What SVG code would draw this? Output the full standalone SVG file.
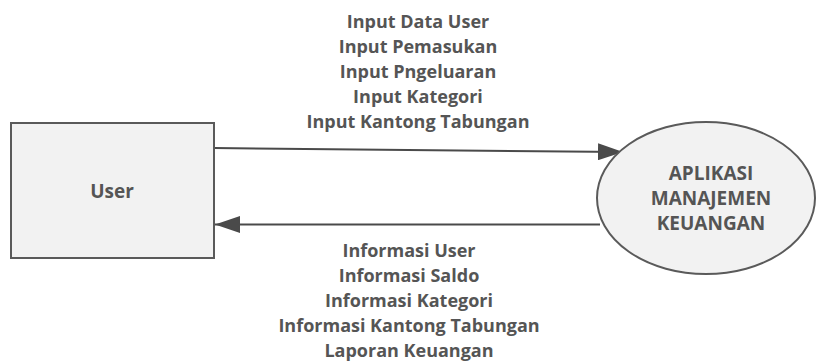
<svg xmlns="http://www.w3.org/2000/svg" width="817" height="362" viewBox="0 0 817 362">
  <style>
    .node { fill: #f2f2f2; stroke: #5a5a5a; stroke-width: 2; }
    .flow { fill: none; stroke: #4a4a4a; stroke-width: 2; }
    text { font-family: "Open Sans", "Liberation Sans", sans-serif; font-weight: bold; fill: #555555; text-anchor: middle; }
    .lbl { font-size: 18px; }
    .nlbl { font-size: 19px; }
  </style>
  <defs>
    <marker id="arrowBig" viewBox="0 0 25 17" refX="25" refY="8.5" markerWidth="25" markerHeight="17" markerUnits="userSpaceOnUse" orient="auto">
      <path d="M0,0 L25,8.5 L0,17 z" fill="#4a4a4a"/>
    </marker>
  </defs>

  <!-- data flows -->
  <g id="connectors">
    <line class="flow" x1="214" y1="148" x2="623" y2="152" marker-end="url(#arrowBig)"/>
    <line class="flow" x1="600" y1="224.5" x2="215" y2="224.5" marker-end="url(#arrowBig)"/>
    <g id="flow-in-labels" class="lbl">
      <text x="418" y="28">Input Data User</text>
      <text x="418" y="53">Input Pemasukan</text>
      <text x="418" y="78">Input Pngeluaran</text>
      <text x="418" y="103">Input Kategori</text>
      <text x="418" y="128">Input Kantong Tabungan</text>
    </g>
    <g id="flow-out-labels" class="lbl">
      <text x="409" y="257">Informasi User</text>
      <text x="409" y="282">Informasi Saldo</text>
      <text x="409" y="307">Informasi Kategori</text>
      <text x="409" y="332">Informasi Kantong Tabungan</text>
      <text x="409" y="357">Laporan Keuangan</text>
    </g>
  </g>

  <!-- external entity -->
  <g id="user">
    <rect class="node" x="11" y="123" width="203" height="135"/>
    <text class="nlbl" x="112" y="198">User</text>
  </g>

  <!-- process -->
  <g id="aplikasi">
    <ellipse class="node" cx="706" cy="198" rx="109" ry="76"/>
    <text class="nlbl" x="711" y="180">APLIKASI</text>
    <text class="nlbl" x="711" y="205">MANAJEMEN</text>
    <text class="nlbl" x="711" y="230">KEUANGAN</text>
  </g>
</svg>
